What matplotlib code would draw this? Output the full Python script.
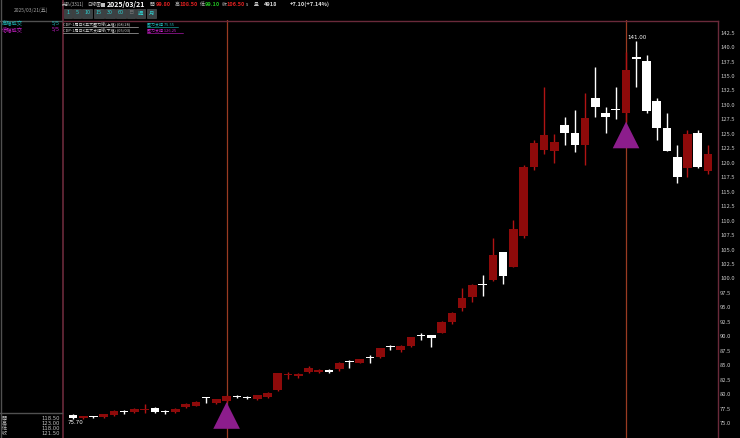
import numpy as np
import matplotlib.pyplot as plt
from matplotlib.patches import Rectangle, Polygon

plt.rcParams['font.family'] = ['Noto Sans CJK TC', 'DejaVu Sans']

# daily candles, oldest first
opens = [76.4, 75.8, 76.1, 76.1, 76.4, 77.0, 76.9, 77.3, 77.6, 77.0,
         76.9, 77.8, 78.0, 79.5, 78.5, 78.8, 79.6, 79.5, 79.2, 79.5,
         80.7, 83.3, 83.2, 83.8, 83.8, 84.05, 84.3, 85.6, 85.4, 86.3,
         86.4, 88.2, 87.6, 88.3, 90.1, 90.2, 90.6, 92.5, 94.9, 96.8,
         99.0, 99.7, 104.6, 102.0, 107.3, 119.3, 122.2, 122.0, 126.5, 125.2,
         123.1, 131.2, 128.6, 129.2, 128.6, 138.2, 137.6, 130.7, 126.0, 121.0,
         119.1, 125.2, 118.5]
highs = [76.5, 76.3, 76.3, 76.6, 77.3, 77.2, 77.6, 78.3, 77.7, 77.2,
         77.6, 78.5, 78.8, 79.5, 79.2, 79.9, 79.9, 79.7, 79.9, 80.4,
         83.7, 83.8, 83.6, 84.9, 84.3, 84.3, 85.5, 85.9, 86.1, 86.8,
         88.0, 88.5, 88.5, 89.9, 90.6, 90.2, 92.6, 94.2, 98.3, 99.0,
         100.6, 107.0, 104.6, 110.1, 119.6, 124.0, 133.1, 125.0, 127.9, 129.1,
         132.1, 136.6, 129.6, 133.1, 139.2, 141.0, 138.6, 131.2, 128.6, 123.1,
         125.7, 125.7, 123.0]
lows = [75.7, 75.7, 75.8, 75.9, 76.3, 76.5, 76.8, 76.8, 76.8, 76.6,
        76.8, 77.6, 77.9, 78.4, 78.3, 78.6, 79.3, 79.1, 79.0, 79.4,
        80.6, 82.6, 82.8, 83.6, 83.6, 83.6, 84.0, 84.5, 85.3, 85.4,
        86.3, 87.6, 87.3, 88.2, 89.4, 88.2, 90.5, 92.1, 94.4, 95.9,
        97.0, 99.6, 99.0, 101.9, 107.0, 118.8, 121.5, 120.0, 123.1, 121.9,
        119.6, 127.9, 125.2, 127.6, 127.1, 133.1, 128.6, 124.0, 122.0, 116.5,
        117.5, 119.1, 118.0]
closes = [75.8, 76.2, 76.0, 76.5, 77.1, 76.9, 77.4, 77.5, 76.9, 76.9,
          77.4, 78.3, 78.6, 79.3, 79.1, 79.6, 79.5, 79.3, 79.8, 80.2,
          83.6, 83.5, 83.35, 84.5, 84.2, 83.9, 85.4, 85.5, 86.0, 86.2,
          87.9, 88.1, 88.3, 89.8, 90.0, 89.7, 92.5, 94.0, 96.6, 98.9,
          98.8, 104.1, 100.4, 108.6, 119.3, 123.4, 124.8, 123.6, 125.2, 123.1,
          127.8, 129.6, 127.9, 129.05, 136.1, 138.0, 129.0, 126.0, 122.0, 117.5,
          125.0, 119.3, 121.5]

signal_idx = [15, 54]
ytick_vals = [75.0, 77.5, 80.0, 82.5, 85.0, 87.5, 90.0, 92.5, 95.0, 97.5,
              100.0, 102.5, 105.0, 107.5, 110.0, 112.5, 115.0, 117.5, 120.0,
              122.5, 125.0, 127.5, 130.0, 132.5, 135.0, 137.5, 140.0, 142.5]

quote_labels = ['開', '高', '低', '收']
quote_values = ['118.50', '123.00', '118.00', '121.50']
period_buttons = ['1', '5', '10', '15', '30', '60', '日', '週', '月']
button_widths = [8, 8, 10, 10, 10, 10, 8, 9, 9]

UP = '#8e0a0a'
UP_WICK = '#b01414'
DOWN = '#ffffff'
BORDER = '#6a2a3a'

fig = plt.figure(figsize=(7.4, 4.38), dpi=100, facecolor='black')
ax = fig.add_axes([62 / 740, 0, 656 / 740, 418 / 438])
ax.set_facecolor('black')

n = len(opens)
w = 0.84
for i in range(n):
    o, h, l, c = opens[i], highs[i], lows[i], closes[i]
    up = c >= o
    ax.vlines(i, l, h, color=UP_WICK if up else DOWN, lw=1.0, zorder=2)
    bh = max(abs(c - o), 0.2)
    ax.add_patch(Rectangle((i - w / 2, min(o, c)), w, bh,
                           facecolor=UP if up else DOWN, edgecolor='none', zorder=3))

# marker lines and signal triangles
for i in signal_idx:
    ax.axvline(i, color='#9a3b22', lw=0.9, zorder=1)
    top = lows[i]
    ax.add_patch(Polygon([(i, top), (i - 1.3, top - 4.6), (i + 1.3, top - 4.6)],
                         closed=True, facecolor='#8c1d8c', edgecolor='none', zorder=4))

# extreme price labels
imax = int(np.argmax(highs))
imin = int(np.argmin(lows))
ax.text(imax - 0.9, highs[imax] + 0.3, '%.2f' % highs[imax], color='white',
        fontsize=4.0, ha='left', va='bottom', family='DejaVu Sans')
ax.text(imin - 0.5, lows[imin] - 0.25, '%.2f' % lows[imin], color='white',
        fontsize=4.0, ha='left', va='top', family='DejaVu Sans')

ax.set_xlim(-1.07, n - 1 + 0.98)
ax.set_ylim(72.41, 144.68)
ax.set_xticks([])
ax.yaxis.tick_right()
ax.set_yticks(ytick_vals)
ax.set_yticklabels(['%.1f' % v for v in ytick_vals])
ax.tick_params(axis='y', length=0, pad=1.5, labelsize=4.2, labelcolor='#c8c8c8')
for s in ax.spines.values():
    s.set_visible(False)

# overlay in pixel coordinates for panels and headers
ov = fig.add_axes([0, 0, 1, 1], zorder=5)
ov.set_xlim(0, 740)
ov.set_ylim(438, 0)
ov.axis('off')
ov.patch.set_alpha(0)

ov.plot([62, 718], [20.5, 20.5], color=BORDER, lw=1)
ov.plot([62.5, 62.5], [0, 438], color=BORDER, lw=1.2)
ov.plot([718, 718], [20.5, 438], color=BORDER, lw=1)
ov.plot([0.5, 0.5], [0, 438], color='#505050', lw=1)
ov.plot([0, 62], [20.5, 20.5], color='#505050', lw=1)
ov.plot([0, 62], [413, 413], color='#505050', lw=1)

ov.text(31, 10, '2025/03/21(五)', color='#a0a0a0', fontsize=3.6, ha='center', va='center')
ov.text(2, 24, '高檔成交', color='#20c0c0', fontsize=3.8, va='center')
ov.text(60, 24, '5/5', color='#20c0c0', fontsize=3.8, va='center', ha='right')
ov.text(2, 30, '低檔成交', color='#d020d0', fontsize=3.8, va='center')
ov.text(60, 30, '5/5', color='#d020d0', fontsize=3.8, va='center', ha='right')

for k in range(len(quote_labels)):
    yy = 418 + k * 5.3
    ov.text(2, yy, quote_labels[k], color='#c0c0c0', fontsize=3.6, va='center')
    ov.text(60, yy, quote_values[k], color='#c0c0c0', fontsize=3.8, va='center', ha='right',
            family='DejaVu Sans')

# header line
hdr = [(62, '光弘(3311)', '#c0c0c0', 3.3, 'normal'),
       (87, '日線圖', '#c0c0c0', 3.3, 'normal'),
       (107, '2025/03/21', '#ffffff', 5.0, 'bold'),
       (150, '開', '#c0c0c0', 3.5, 'normal'),
       (156, '99.80', '#e02020', 4.0, 'bold'),
       (175, '高', '#c0c0c0', 3.5, 'normal'),
       (180, '108.50', '#e02020', 4.0, 'bold'),
       (200, '低', '#c0c0c0', 3.5, 'normal'),
       (205, '99.10', '#20c020', 4.0, 'bold'),
       (222, '收', '#c0c0c0', 3.5, 'normal'),
       (227, '106.50', '#e02020', 4.0, 'bold'),
       (246, 's', '#c0c0c0', 3.5, 'normal'),
       (254, '量', '#c0c0c0', 3.5, 'normal'),
       (264, '4918', '#e0e0e0', 4.0, 'bold'),
       (290, '+7.10(+7.14%)', '#e0e0e0', 4.0, 'bold')]
for x0, txt, col, fs, fw in hdr:
    ov.text(x0, 4.5, txt, color=col, fontsize=fs, fontweight=fw, va='center', ha='left')
ov.add_patch(Rectangle((101, 2.5), 4, 4.5, facecolor='#c0c0c0', edgecolor='none'))

bx = 64
for b, bw in zip(period_buttons, button_widths):
    ov.add_patch(Rectangle((bx, 8.5), bw, 9, facecolor='#3a4244', edgecolor='#5a5a5a', lw=0.4))
    ov.text(bx + bw / 2, 13, b, color='#707070' if b == '日' else '#30d0d0',
            fontsize=3.9, ha='center', va='center')
    bx += bw + 1.2

ov.text(63, 24.5, 'CDP-1周日K五大壓力線(上檔) (08/28)', color='#d8d8d8', fontsize=2.9, va='center')
ov.text(147, 24.5, '壓力支撐 75.55', color='#20c0c0', fontsize=2.9, va='center')
ov.text(63, 30.5, 'CDP-1周日K五大支撐線(下檔) (05/03)', color='#d8d8d8', fontsize=2.9, va='center')
ov.text(147, 30.5, '壓力支撐 126.25', color='#d020d0', fontsize=2.9, va='center')
ov.plot([63, 138], [27.0, 27.0], color='#d8d8d8', lw=0.4)
ov.plot([147, 178], [27.0, 27.0], color='#20c0c0', lw=0.4)
ov.plot([63, 138], [33.0, 33.0], color='#d8d8d8', lw=0.4)
ov.plot([147, 183], [33.0, 33.0], color='#d020d0', lw=0.4)

fig.savefig('out.png', dpi=100, facecolor='black')
